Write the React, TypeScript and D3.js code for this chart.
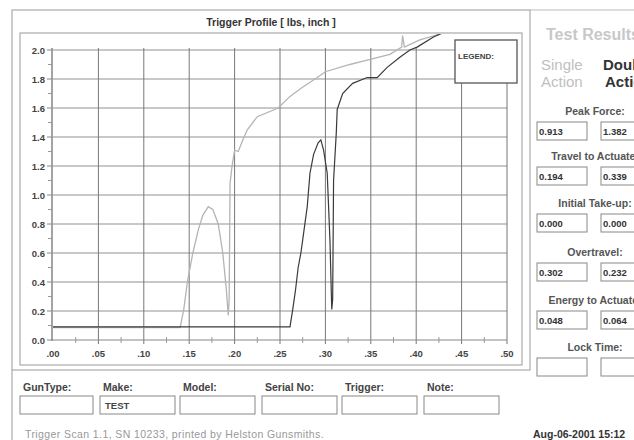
import React from "react";
import * as d3 from "d3";

const xTickValues = [0, 0.05, 0.1, 0.15, 0.2, 0.25, 0.3, 0.35, 0.4, 0.45, 0.5];
const xTickLabels = [".00", ".05", ".10", ".15", ".20", ".25", ".30", ".35", ".40", ".45", ".50"];
const yTickValues = [0, 0.2, 0.4, 0.6, 0.8, 1.0, 1.2, 1.4, 1.6, 1.8, 2.0];
const yTickLabels = ["0.0", "0.2", "0.4", "0.6", "0.8", "1.0", "1.2", "1.4", "1.6", "1.8", "2.0"];

// Single action (light trace)
const singleX = [0, 0.14, 0.144, 0.148, 0.154, 0.16, 0.165, 0.171, 0.176, 0.182, 0.187, 0.191, 0.193, 0.194, 0.195, 0.197, 0.2, 0.204, 0.209, 0.214, 0.225, 0.248, 0.261, 0.274, 0.291, 0.3, 0.327, 0.346, 0.371, 0.384, 0.385, 0.387, 0.404, 0.426];
const singleY = [0.085, 0.085, 0.21, 0.4, 0.6, 0.76, 0.86, 0.92, 0.9, 0.8, 0.6, 0.34, 0.17, 0.28, 1.08, 1.19, 1.31, 1.3, 1.38, 1.45, 1.54, 1.6, 1.68, 1.74, 1.81, 1.85, 1.9, 1.93, 1.97, 2.02, 2.1, 2.02, 2.07, 2.11];

// Double action (dark trace)
const doubleX = [0, 0.261, 0.264, 0.267, 0.27, 0.273, 0.275, 0.28, 0.283, 0.287, 0.292, 0.295, 0.298, 0.302, 0.305, 0.307, 0.308, 0.309, 0.312, 0.313, 0.319, 0.33, 0.346, 0.357, 0.368, 0.382, 0.393, 0.401, 0.419, 0.43];
const doubleY = [0.09, 0.09, 0.21, 0.34, 0.5, 0.6, 0.69, 0.92, 1.15, 1.28, 1.36, 1.38, 1.31, 1.15, 0.69, 0.21, 0.28, 1.1, 1.43, 1.59, 1.7, 1.77, 1.81, 1.81, 1.88, 1.95, 2.0, 2.02, 2.09, 2.12];

const resultLabels = ["Peak Force:", "Travel to Actuate:", "Initial Take-up:", "Overtravel:", "Energy to Actuate:", "Lock Time:"];
const singleResults = ["0.913", "0.194", "0.000", "0.302", "0.048", ""];
const doubleResults = ["1.382", "0.339", "0.000", "0.232", "0.064", ""];

const fieldLabels = ["GunType:", "Make:", "Model:", "Serial No:", "Trigger:", "Note:"];
const fieldValues = ["", "TEST", "", "", "", ""];

const FONT = "'Liberation Sans', Arial, sans-serif";

export default function App() {
  const x = d3.scaleLinear().domain([0, 0.5]).range([53, 507]);
  const y = d3.scaleLinear().domain([0, 2]).range([340, 50]);
  const line = d3
    .line<[number, number]>()
    .x((d) => x(d[0]))
    .y((d) => y(d[1]));
  const singlePts = singleX.map((v, i) => [v, singleY[i]] as [number, number]);
  const doublePts = doubleX.map((v, i) => [v, doubleY[i]] as [number, number]);
  const minorX = d3.range(0.025, 0.5, 0.05);
  const minorY = d3.range(0.1, 2.0, 0.2);

  const resultTops = [111, 156, 203, 252, 300, 347];
  const fieldBoxes = [
    [20, 93],
    [100, 175],
    [180, 255],
    [262, 337],
    [342, 417],
    [424, 499],
  ];

  return (
    <svg
      width={634}
      height={440}
      style={{ position: "absolute", left: 0, top: 0, background: "#fff" }}
      fontFamily={FONT}
    >
      <defs>
        <clipPath id="plotClip">
          <rect x={53} y={34} width={454} height={306} />
        </clipPath>
      </defs>
      <rect x={0} y={0} width={634} height={440} fill="#fff" />

      {/* frames */}
      <rect x={12} y={10} width={518} height={360} fill="none" stroke="#aaa" strokeWidth={1.2} />
      <rect x={20} y={33} width={502} height={332} fill="none" stroke="#aaa" strokeWidth={1.2} />
      <line x1={12} y1={370} x2={12} y2={440} stroke="#aaa" strokeWidth={1.2} />
      <line x1={530} y1={10} x2={634} y2={10} stroke="#bbb" strokeWidth={1.2} />

      {/* title */}
      <text x={271} y={26} textAnchor="middle" fontSize={10.5} fontWeight="bold" fill="#333">
        Trigger Profile [ lbs, inch ]
      </text>

      {/* horizontal grid */}
      {yTickValues.slice(1).map((v) => (
        <line key={"h" + v} x1={53} x2={507} y1={y(v)} y2={y(v)} stroke="#c8c8c8" strokeWidth={2} />
      ))}
      {/* vertical grid */}
      {xTickValues.slice(1).map((v) => (
        <line key={"v" + v} x1={x(v)} x2={x(v)} y1={48} y2={344} stroke="#777" strokeWidth={1} />
      ))}
      {/* axes */}
      <line x1={52} x2={52} y1={48} y2={341} stroke="#666" strokeWidth={1.2} />
      <line x1={52} x2={507} y1={340} y2={340} stroke="#888" strokeWidth={1.2} />
      {minorX.map((v) => (
        <line key={"mx" + v} x1={x(v)} x2={x(v)} y1={337} y2={343} stroke="#999" strokeWidth={1} />
      ))}
      {minorY.map((v) => (
        <line key={"my" + v} x1={48} x2={52} y1={y(v)} y2={y(v)} stroke="#999" strokeWidth={1} />
      ))}
      {yTickValues.map((v) => (
        <line key={"my2" + v} x1={47} x2={52} y1={y(v)} y2={y(v)} stroke="#888" strokeWidth={1} />
      ))}
      {yTickValues.map((v, i) => (
        <text key={"yl" + v} x={45} y={y(v) + 3.5} textAnchor="end" fontSize={9.5} fontWeight="bold" fill="#444">
          {yTickLabels[i]}
        </text>
      ))}
      {xTickValues.map((v, i) => (
        <text key={"xl" + v} x={x(v)} y={357} textAnchor="middle" fontSize={9.5} fontWeight="bold" fill="#444">
          {xTickLabels[i]}
        </text>
      ))}

      {/* traces */}
      <g clipPath="url(#plotClip)">
        <path d={line(singlePts) || ""} fill="none" stroke="#b4b4b4" strokeWidth={1.3} />
        <path d={line(doublePts) || ""} fill="none" stroke="#3a3a3a" strokeWidth={1.2} />
      </g>

      {/* legend */}
      <rect x={455} y={40} width={62} height={43} fill="#fff" stroke="#555" strokeWidth={1.3} />
      <text x={458} y={59} fontSize={8} fontWeight="bold" fill="#444">
        LEGEND:
      </text>

      {/* right panel */}
      <text x={546} y={40} fontSize={16} fontWeight="bold" fill="#c8c8c8">
        Test Results
      </text>
      <text x={541} y={70} fontSize={15} fill="#c0c0c0">Single</text>
      <text x={541} y={87} fontSize={15} fill="#c0c0c0">Action</text>
      <text x={603} y={70} fontSize={15} fontWeight="bold" fill="#333">Double</text>
      <text x={605} y={87} fontSize={15} fontWeight="bold" fill="#333">Action</text>
      {resultLabels.map((lab, i) => {
        const t = resultTops[i];
        return (
          <g key={lab}>
            <text x={595} y={t + 4} textAnchor="middle" fontSize={10.5} fontWeight="bold" fill="#555">
              {lab}
            </text>
            <rect x={537} y={t + 11} width={50} height={18} fill="#fff" stroke="#888" strokeWidth={1} />
            <rect x={601} y={t + 11} width={50} height={18} fill="#fff" stroke="#888" strokeWidth={1} />
            <text x={539} y={t + 24} fontSize={9.5} fontWeight="bold" fill="#333">
              {singleResults[i]}
            </text>
            <text x={603} y={t + 24} fontSize={9.5} fontWeight="bold" fill="#333">
              {doubleResults[i]}
            </text>
          </g>
        );
      })}

      {/* bottom fields */}
      {fieldLabels.map((lab, i) => {
        const [a, b] = fieldBoxes[i];
        return (
          <g key={lab}>
            <text x={a + 3} y={391} fontSize={10.5} fontWeight="bold" fill="#444">
              {lab}
            </text>
            <rect x={a} y={396} width={b - a} height={18} fill="#fff" stroke="#888" strokeWidth={1} />
            <text x={a + 5} y={409} fontSize={9.5} fontWeight="bold" fill="#444">
              {fieldValues[i]}
            </text>
          </g>
        );
      })}

      {/* footer */}
      <text x={25} y={438} fontSize={10.5} letterSpacing={0.4} fill="#999">
        Trigger Scan 1.1, SN 10233, printed by Helston Gunsmiths.
      </text>
      <text x={533} y={438} fontSize={10.5} fontWeight="bold" fill="#333">
        Aug-06-2001  15:12
      </text>
    </svg>
  );
}
